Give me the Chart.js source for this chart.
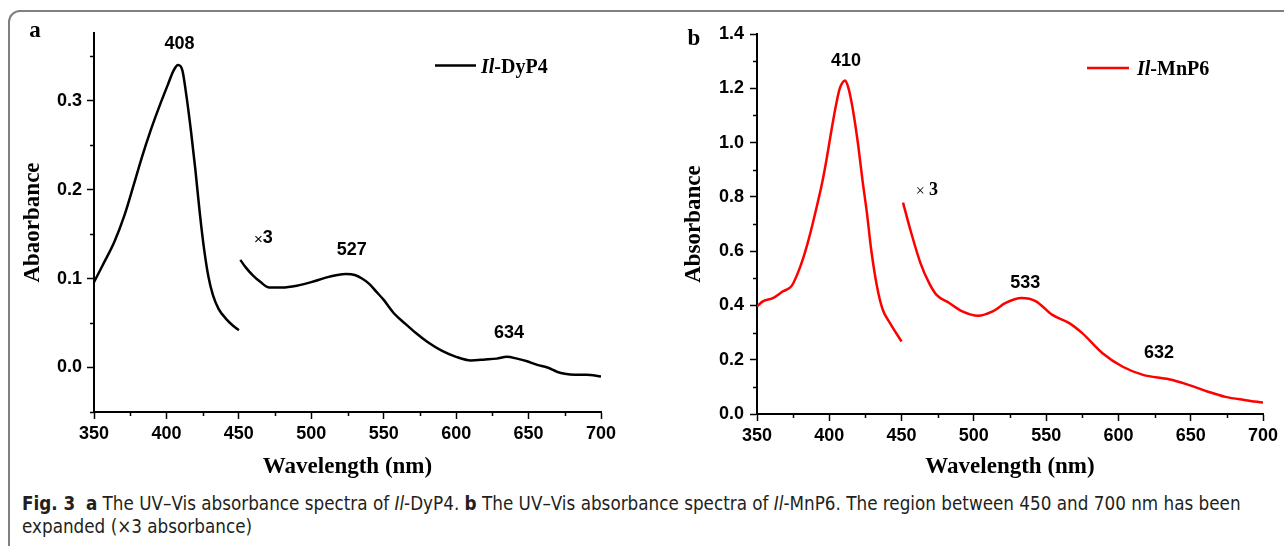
<!DOCTYPE html>
<html>
<head>
<meta charset="utf-8">
<script src="https://cdn.jsdelivr.net/npm/chart.js@4.4.0/dist/chart.umd.min.js"></script>
<style>
  html, body { margin: 0; padding: 0; background: #fff; }
  body { width: 1284px; height: 546px; position: relative; overflow: hidden; }
  #frame {
    position: absolute; left: 8px; top: 10px; width: 1320px; height: 580px;
    border: 2px solid #808080; border-radius: 12px; box-sizing: border-box;
  }
  .panel { position: absolute; top: 0; }
  #wrapA { left: 0; }
  #wrapB { left: 640px; }
  #caption {
    position: absolute; left: 22px; top: 492px; white-space: nowrap;
    font-family: "Liberation Sans Narrow", "DejaVu Sans Condensed", "Liberation Sans", sans-serif;
    font-size: 18.7px; line-height: 23px; color: #231f20;
  }
</style>
</head>
<body>
<div id="frame"></div>
<div class="panel" id="wrapA"><canvas id="chartA" width="640" height="490"></canvas></div>
<div class="panel" id="wrapB"><canvas id="chartB" width="644" height="490"></canvas></div>
<div id="caption"><b>Fig. 3</b>&nbsp; <b>a</b> The UV–Vis absorbance spectra of <i>Il</i>-DyP4. <b>b</b> The UV–Vis absorbance spectra of <i>Il</i>-MnP6. The region between 450 and 700 nm has been<br>expanded (×3 absorbance)</div>

<script>
// panel a: Il-DyP4, Soret band (350-450 nm) and expanded visible region (x3)
const wlDyPSoret = [350, 356, 364, 371, 377, 383, 389, 395, 401, 405, 408, 411, 414, 417, 420, 423, 426, 429, 432, 436, 441, 446, 450];
const absDyPSoret = [0.096, 0.115, 0.141, 0.171, 0.203, 0.236, 0.266, 0.293, 0.318, 0.334, 0.340, 0.334, 0.303, 0.265, 0.222, 0.174, 0.133, 0.102, 0.082, 0.066, 0.055, 0.047, 0.042];
const wlDyPVis = [451, 455, 460, 465, 471, 480, 490, 500, 510, 518, 524, 530, 535, 540, 545, 550, 557, 565, 572, 580, 590, 600, 610, 620, 628, 635, 642, 649, 656, 663, 670, 675, 682, 690, 700];
const absDyPVis = [0.121, 0.112, 0.103, 0.096, 0.090, 0.090, 0.092, 0.096, 0.101, 0.104, 0.105, 0.104, 0.100, 0.094, 0.085, 0.076, 0.061, 0.049, 0.039, 0.029, 0.019, 0.012, 0.008, 0.009, 0.010, 0.012, 0.010, 0.007, 0.003, 0.000, -0.005, -0.007, -0.008, -0.008, -0.010];

// panel b: Il-MnP6
const wlMnPSoret = [350, 354, 361, 368, 374, 380, 384, 388, 392, 395, 398, 401, 404, 407, 409, 411, 413, 415, 417, 420, 423, 426, 429, 433, 437, 442, 450];
const absMnPSoret = [0.396, 0.415, 0.427, 0.452, 0.472, 0.544, 0.610, 0.690, 0.779, 0.850, 0.935, 1.030, 1.120, 1.195, 1.220, 1.229, 1.205, 1.160, 1.100, 0.990, 0.860, 0.742, 0.605, 0.470, 0.384, 0.335, 0.267];
const wlMnPVis = [451, 456, 463, 469, 474, 483, 492, 503, 513, 522, 533, 543, 554, 566, 575, 589, 603, 617, 635, 647, 661, 674, 688, 700];
const absMnPVis = [0.779, 0.680, 0.557, 0.483, 0.440, 0.409, 0.378, 0.362, 0.378, 0.409, 0.427, 0.415, 0.366, 0.335, 0.298, 0.224, 0.174, 0.144, 0.128, 0.110, 0.084, 0.063, 0.051, 0.042];

// peak labels (nm)
const peaksDyP = ['408', '527', '634'];
const peaksMnP = ['410', '533', '632'];

const numFont = { family: '"Liberation Sans", Arial, sans-serif', weight: 'bold', size: 18 };
const titleFont = { family: '"Liberation Serif", "Times New Roman", serif', weight: 'bold', size: 23 };

function toPoints(xs, ys) {
    return xs.map((w, i) => ({ x: w, y: ys[i] }));
}

// minor ticks, peak labels, legend and panel letter
const panelDecor = {
    id: 'panelDecor',
    afterDraw(chart, args, opts) {
        const { ctx, chartArea } = chart;
        const xs = chart.scales.x, ys = chart.scales.y;
        ctx.save();
        ctx.strokeStyle = '#000';
        ctx.lineWidth = 1.5;

        // minor ticks half way between the major ones
        const minors = (scale) => {
            const t = scale.ticks.map(k => k.value);
            const step = t[1] - t[0];
            const out = [];
            for (let v = t[0] - step / 2; v <= scale.max + 1e-9; v += step) {
                if (v >= scale.min - 1e-9) out.push(v);
            }
            return out;
        };
        minors(xs).forEach(v => {
            const px = Math.round(xs.getPixelForValue(v)) + 0.5;
            ctx.beginPath();
            ctx.moveTo(px, chartArea.bottom);
            ctx.lineTo(px, chartArea.bottom + 4);
            ctx.stroke();
        });
        minors(ys).forEach(v => {
            const py = Math.round(ys.getPixelForValue(v)) + 0.5;
            ctx.beginPath();
            ctx.moveTo(chartArea.left, py);
            ctx.lineTo(chartArea.left - 4, py);
            ctx.stroke();
        });

        // peak labels and "x3" mark, placed in data coordinates
        ctx.fillStyle = '#000';
        ctx.textBaseline = 'middle';
        opts.notes.forEach(n => {
            const px = xs.getPixelForValue(n.x), py = ys.getPixelForValue(n.y);
            if (n.parts) {
                let w = 0;
                n.parts.forEach(p => { ctx.font = p.font; w += ctx.measureText(p.text).width; });
                let cx = px - w / 2;
                ctx.textAlign = 'left';
                n.parts.forEach(p => {
                    ctx.font = p.font;
                    ctx.fillText(p.text, cx, py + (p.dy || 0));
                    cx += ctx.measureText(p.text).width;
                });
            } else {
                ctx.font = 'bold 18px "Liberation Sans", Arial, sans-serif';
                ctx.textAlign = 'center';
                ctx.fillText(n.text, px, py);
            }
        });

        // legend
        const lg = opts.legend;
        ctx.strokeStyle = lg.color;
        ctx.lineWidth = 2.5;
        ctx.beginPath();
        ctx.moveTo(lg.x, lg.y);
        ctx.lineTo(lg.x + lg.len, lg.y);
        ctx.stroke();
        ctx.fillStyle = '#000';
        ctx.textAlign = 'left';
        ctx.textBaseline = 'alphabetic';
        let tx = lg.x + lg.len + lg.gap;
        ctx.font = 'italic bold 20px "Liberation Serif", serif';
        ctx.fillText('Il', tx, lg.y + 7);
        tx += ctx.measureText('Il').width;
        ctx.font = 'bold 20px "Liberation Serif", serif';
        ctx.fillText(lg.name, tx, lg.y + 7);

        // panel letter
        ctx.font = 'bold 23px "Liberation Serif", serif';
        ctx.textAlign = 'center';
        ctx.fillText(opts.letter.text, opts.letter.x, opts.letter.y);
        ctx.restore();
    }
};

function makePanel(id, cfg) {
    return new Chart(document.getElementById(id), {
        type: 'line',
        data: {
            datasets: cfg.series.map(s => ({
                data: s,
                borderColor: cfg.color,
                borderWidth: 2.5,
                pointRadius: 0,
                fill: false,
                tension: 0.4,
                cubicInterpolationMode: 'monotone'
            }))
        },
        options: {
            responsive: false,
            animation: false,
            devicePixelRatio: 1,
            layout: { padding: cfg.padding },
            plugins: {
                legend: { display: false },
                tooltip: { enabled: false },
                panelDecor: cfg.decor
            },
            scales: {
                x: {
                    type: 'linear',
                    min: 350,
                    max: 700,
                    afterFit: s => { s.height = cfg.xHeight; },
                    ticks: {
                        stepSize: 50,
                        autoSkip: false,
                        maxRotation: 0,
                        includeBounds: false,
                        padding: 4,
                        color: '#000',
                        font: numFont
                    },
                    grid: { drawOnChartArea: false, drawTicks: true, tickLength: 7, tickWidth: 1.5, tickColor: '#000' },
                    border: { display: true, color: '#000', width: 2 },
                    title: {
                        display: true,
                        text: 'Wavelength (nm)',
                        color: '#000',
                        font: titleFont,
                        padding: { top: 0, bottom: cfg.xTitlePad }
                    }
                },
                y: {
                    type: 'linear',
                    min: cfg.yMin,
                    max: cfg.yMax,
                    afterFit: s => { s.width = cfg.yWidth; },
                    ticks: {
                        stepSize: cfg.yStep,
                        includeBounds: false,
                        padding: cfg.yTickPad,
                        color: '#000',
                        font: numFont,
                        callback: v => v.toFixed(1)
                    },
                    grid: { drawOnChartArea: false, drawTicks: true, tickLength: 7, tickWidth: 1.5, tickColor: '#000' },
                    border: { display: true, color: '#000', width: 2 },
                    title: {
                        display: true,
                        text: cfg.yTitle,
                        color: '#000',
                        font: titleFont,
                        padding: { top: cfg.yTitlePad, bottom: 0 }
                    }
                }
            }
        },
        plugins: [panelDecor]
    });
}

makePanel('chartA', {
    series: [toPoints(wlDyPSoret, absDyPSoret), toPoints(wlDyPVis, absDyPVis)],
    color: '#000000',
    padding: { top: 33, right: 39, bottom: 0, left: 0 },
    xHeight: 78,
    yWidth: 94,
    yMin: -0.05,
    yMax: 0.376,
    yStep: 0.1,
    yTickPad: 5,
    yTitle: 'Abaorbance',
    yTitlePad: 18.9,
    xTitlePad: 9.2,
    decor: {
        notes: [
            { text: peaksDyP[0], x: 409, y: 0.364 },
            { text: peaksDyP[1], x: 528, y: 0.132 },
            { text: peaksDyP[2], x: 636.5, y: 0.039 },
            { x: 467, y: 0.145, parts: [
                { text: '×', font: '15px "Liberation Sans", Arial, sans-serif', dy: 1 },
                { text: '3', font: 'bold 18px "Liberation Sans", Arial, sans-serif' }
            ] }
        ],
        legend: { x: 435, y: 65.5, len: 41, gap: 5, color: '#000', name: '-DyP4' },
        letter: { text: 'a', x: 35, y: 37 }
    }
});

makePanel('chartB', {
    series: [toPoints(wlMnPSoret, absMnPSoret), toPoints(wlMnPVis, absMnPVis)],
    color: '#ff0000',
    padding: { top: 34, right: 21, bottom: 0, left: 0 },
    xHeight: 76,
    yWidth: 117,
    yMin: 0,
    yMax: 1.4,
    yStep: 0.2,
    yTickPad: 6,
    yTitle: 'Absorbance',
    yTitlePad: 40.2,
    xTitlePad: 9.2,
    decor: {
        notes: [
            { text: peaksMnP[0], x: 411.5, y: 1.301 },
            { text: peaksMnP[1], x: 535.5, y: 0.484 },
            { text: peaksMnP[2], x: 628, y: 0.225 },
            { x: 467.5, y: 0.824, parts: [
                { text: '× ', font: '16px "Liberation Serif", serif', dy: 1 },
                { text: '3', font: 'bold 18px "Liberation Serif", serif' }
            ] }
        ],
        legend: { x: 447, y: 68, len: 42, gap: 8, color: '#ff0000', name: '-MnP6' },
        letter: { text: 'b', x: 54, y: 45 }
    }
});
</script>
</body>
</html>
